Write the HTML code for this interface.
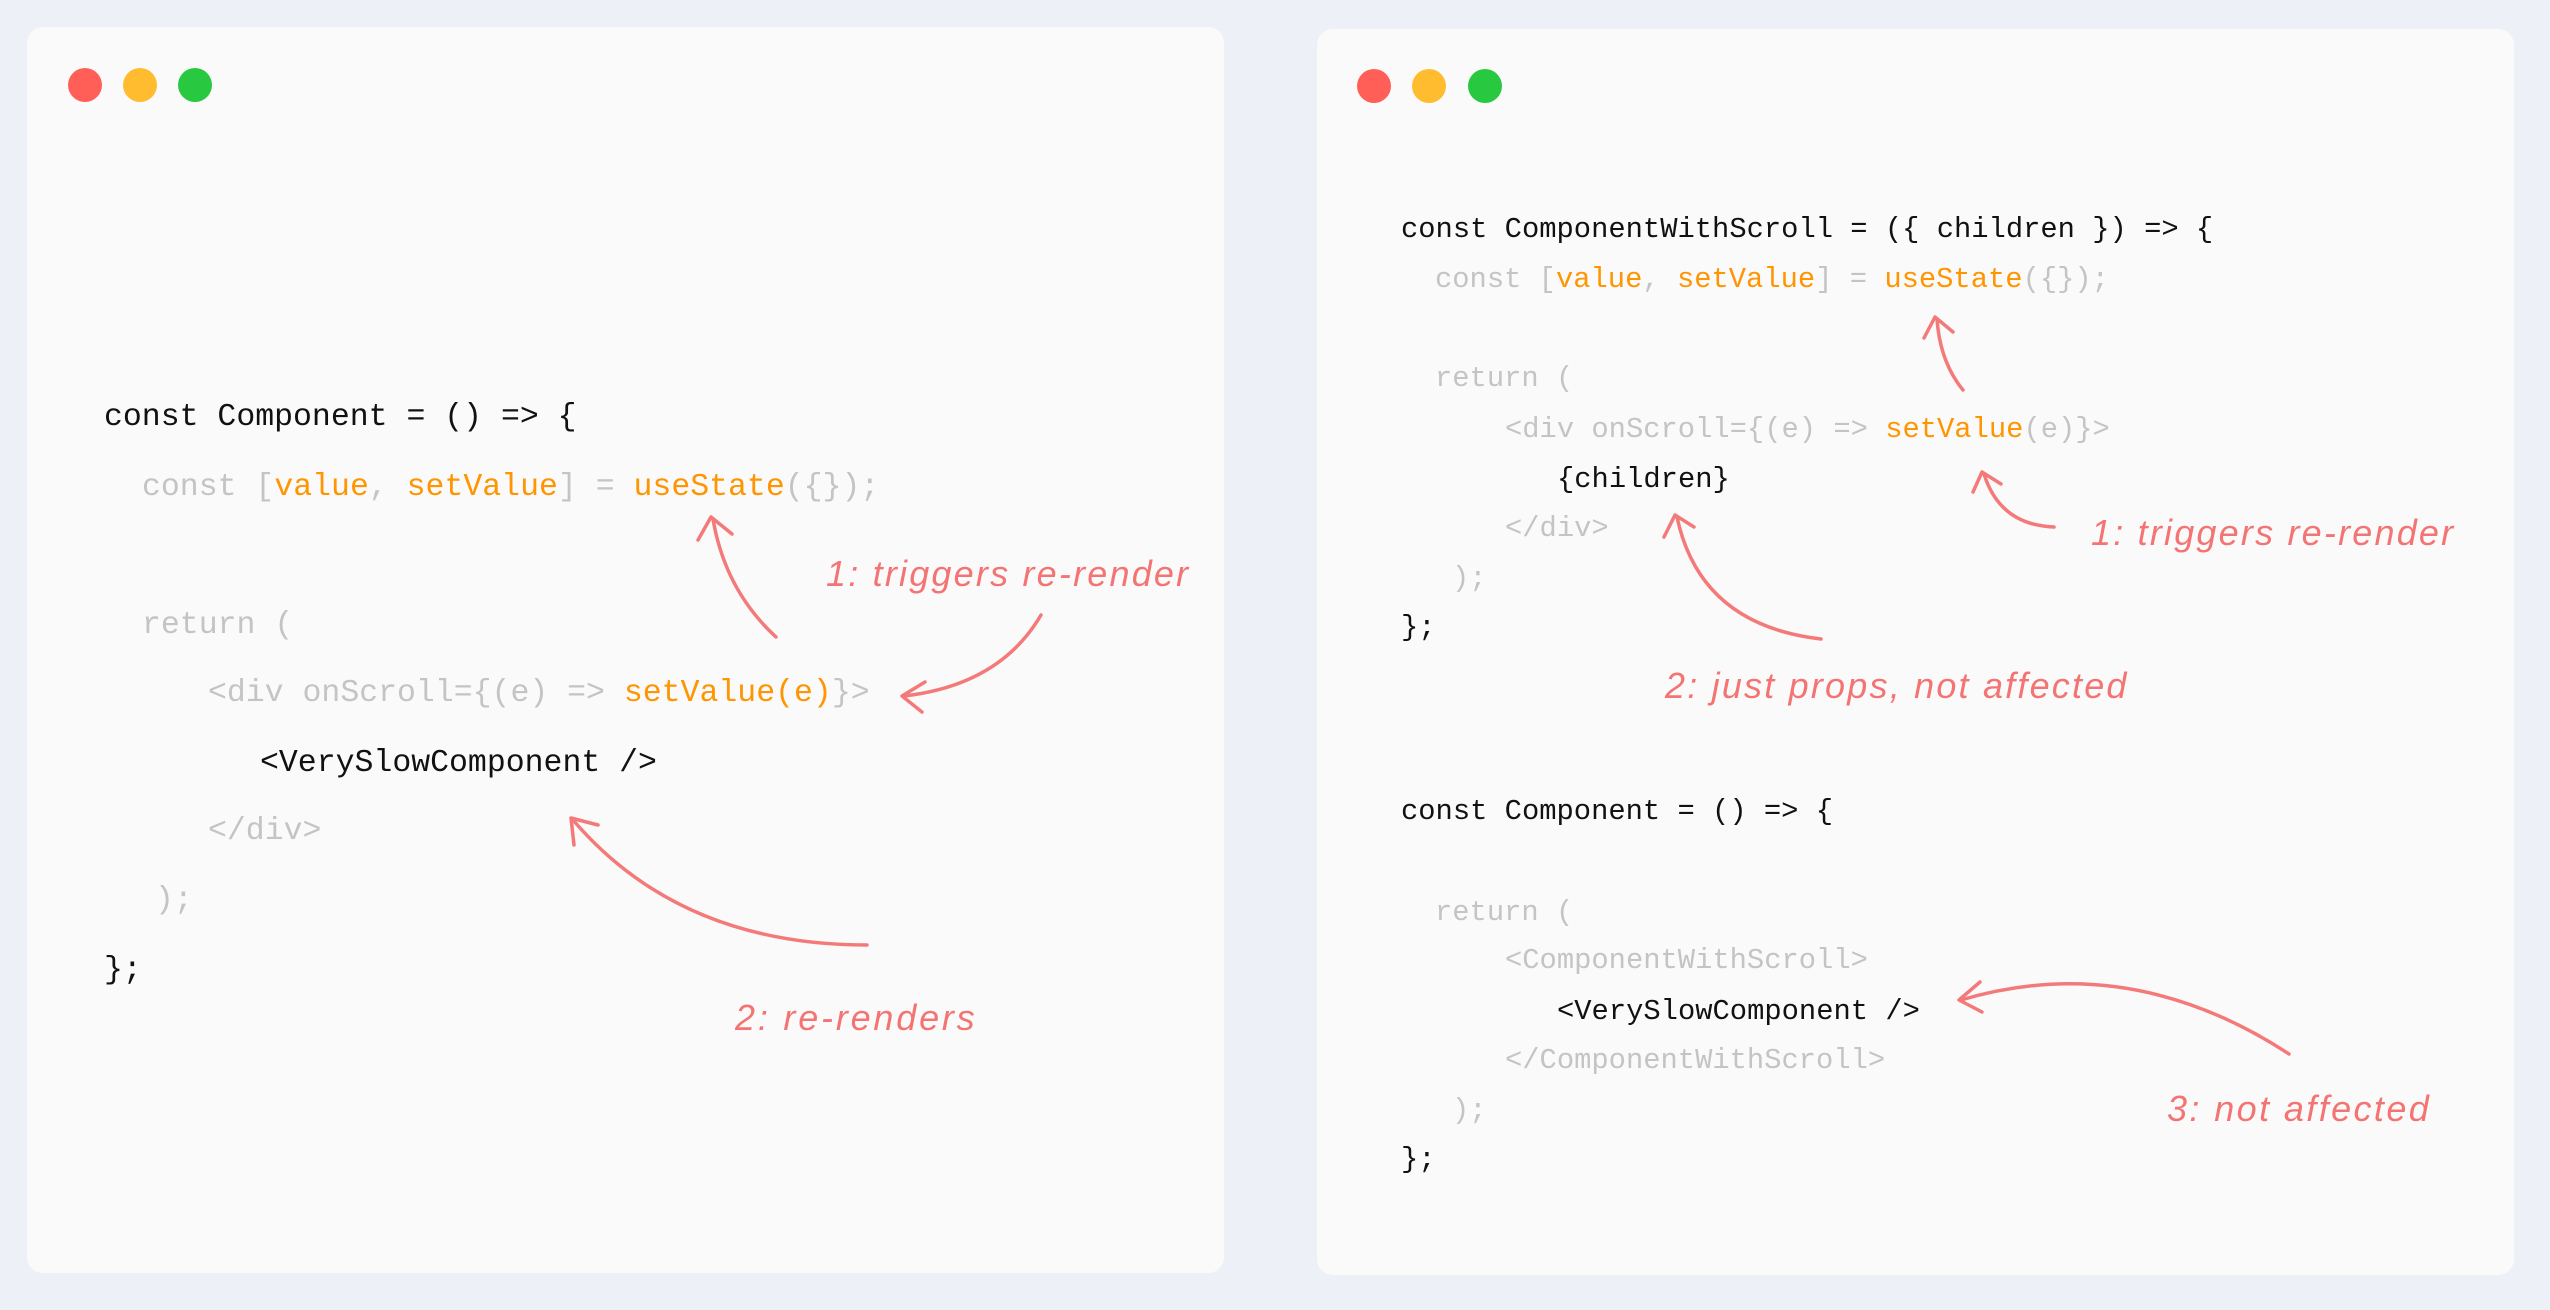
<!DOCTYPE html>
<html><head><meta charset="utf-8"><style>
body{margin:0;width:2550px;height:1310px;background:#eef0f7;position:relative;overflow:hidden;font-family:"Liberation Mono",monospace}
.panel{position:absolute;background:#fafafa;border-radius:16px}
.dot{position:absolute;width:34px;height:34px;border-radius:50%}
.c{position:absolute;white-space:pre;line-height:1;color:#111}
.g{color:#c4c4c4}.o{color:#ff9500}
.a{position:absolute;white-space:pre;font-family:"Liberation Sans",sans-serif;font-style:italic;color:#f47474;line-height:1;font-size:36px;letter-spacing:2.2px}
</style></head><body>
<div class="panel" style="left:27px;top:27px;width:1197px;height:1246px"></div>
<div class="panel" style="left:1317px;top:29px;width:1197px;height:1246px"></div>
<div class="dot" style="left:68px;top:68px;background:#ff5f57"></div>
<div class="dot" style="left:123px;top:68px;background:#febc2e"></div>
<div class="dot" style="left:178px;top:68px;background:#28c840"></div>
<div class="dot" style="left:1357px;top:69px;background:#ff5f57"></div>
<div class="dot" style="left:1412px;top:69px;background:#febc2e"></div>
<div class="dot" style="left:1468px;top:69px;background:#28c840"></div>

<div style="font-size:31.5px">
<div class="c" style="left:104px;top:402px">const Component = () =&gt; {</div>
<div class="c g" style="left:142px;top:472px">const [<span class="o">value</span>, <span class="o">setValue</span>] = <span class="o">useState</span>({});</div>
<div class="c g" style="left:142px;top:610px">return (</div>
<div class="c g" style="left:208px;top:678px">&lt;div onScroll={(e) =&gt; <span class="o">setValue(e)</span>}&gt;</div>
<div class="c" style="left:260px;top:748px">&lt;VerySlowComponent /&gt;</div>
<div class="c g" style="left:208px;top:816px">&lt;/div&gt;</div>
<div class="c g" style="left:155px;top:885px">);</div>
<div class="c" style="left:104px;top:955px">};</div>
</div>

<div style="font-size:28.8px">
<div class="c" style="left:1401px;top:216px">const ComponentWithScroll = ({ children }) =&gt; {</div>
<div class="c g" style="left:1435px;top:266px">const [<span class="o">value</span>, <span class="o">setValue</span>] = <span class="o">useState</span>({});</div>
<div class="c g" style="left:1435px;top:365px">return (</div>
<div class="c g" style="left:1505px;top:416px">&lt;div onScroll={(e) =&gt; <span class="o">setValue</span>(e)}&gt;</div>
<div class="c" style="left:1557px;top:466px">{children}</div>
<div class="c g" style="left:1505px;top:515px">&lt;/div&gt;</div>
<div class="c g" style="left:1452px;top:565px">);</div>
<div class="c" style="left:1401px;top:614px">};</div>
<div class="c" style="left:1401px;top:798px">const Component = () =&gt; {</div>
<div class="c g" style="left:1435px;top:899px">return (</div>
<div class="c g" style="left:1505px;top:947px">&lt;ComponentWithScroll&gt;</div>
<div class="c" style="left:1557px;top:998px">&lt;VerySlowComponent /&gt;</div>
<div class="c g" style="left:1505px;top:1047px">&lt;/ComponentWithScroll&gt;</div>
<div class="c g" style="left:1452px;top:1097px">);</div>
<div class="c" style="left:1401px;top:1146px">};</div>
</div>

<div class="a" style="left:826px;top:556px">1: triggers re-render</div>
<div class="a" style="left:735px;top:1000px;letter-spacing:2.8px">2: re-renders</div>
<div class="a" style="left:2091px;top:515px">1: triggers re-render</div>
<div class="a" style="left:1665px;top:668px">2: just props, not affected</div>
<div class="a" style="left:2167px;top:1091px;letter-spacing:2.4px">3: not affected</div>

<svg width="2550" height="1310" style="position:absolute;left:0;top:0" fill="none" stroke="#f47a7a" stroke-width="3.5" stroke-linecap="round" stroke-linejoin="round">
<path d="M776 637 Q725 590 713 519"/><path d="M698 540 L711 517 L732 534"/>
<path d="M1041 615 Q1000 685 904 696"/><path d="M925 682 L902 696 L922 712"/>
<path d="M867 945 Q680 945 573 820"/><path d="M574 845 L571 818 L598 825"/>
<path d="M1963 390 Q1940 362 1937 319"/><path d="M1924 338 L1935 317 L1953 332"/>
<path d="M2054 527 Q2000 525 1984 474"/><path d="M1973 492 L1982 472 L2001 484"/>
<path d="M1821 639 Q1700 625 1677 517"/><path d="M1664 537 L1675 515 L1694 527"/>
<path d="M2289 1054 Q2130 950 1961 1000"/><path d="M1980 982 L1959 1000 L1982 1012"/>
</svg>
</body></html>
